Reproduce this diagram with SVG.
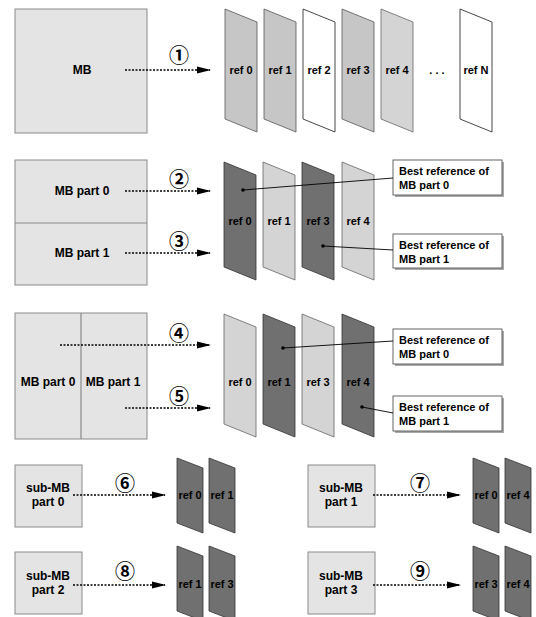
<svg xmlns="http://www.w3.org/2000/svg" width="536" height="617" viewBox="0 0 536 617">
<defs>
<style>
.mb{fill:#e4e4e4;stroke:#8a8a8a;stroke-width:1}
.div{stroke:#8a8a8a;stroke-width:1.2}
.rl{fill:#d4d4d4;stroke:#666;stroke-width:0.8}
.rm{fill:#c6c6c6;stroke:#555;stroke-width:0.8}
.rw{fill:#ffffff;stroke:#333;stroke-width:0.9}
.rd{fill:#707070;stroke:#333;stroke-width:0.8}
.t{font-family:"Liberation Sans",Arial,sans-serif;font-weight:bold;font-size:11px;fill:#000;text-anchor:middle}
.tb{font-family:"Liberation Sans",Arial,sans-serif;font-weight:bold;font-size:12px;fill:#000;text-anchor:middle}
.tl{font-family:"Liberation Sans",Arial,sans-serif;font-weight:bold;font-size:11px;fill:#000}
.num{font-family:"Noto Sans CJK SC","DejaVu Sans",sans-serif;font-weight:bold;font-size:20px;fill:#000;text-anchor:middle}
.arr{stroke:#000;stroke-width:1.4;stroke-dasharray:2 1.5;fill:none}
.lead{stroke:#000;stroke-width:0.9;fill:none}
.cb{fill:#fff;stroke:#555;stroke-width:0.9}
.cs{fill:#aaa}
</style>
<marker id="ah" markerWidth="14" markerHeight="8" refX="13" refY="4" orient="auto" markerUnits="userSpaceOnUse">
<path d="M0,0.5 L14,4 L0,7.5 Z" fill="#000"/>
</marker>
</defs>

<!-- Row 1 -->
<g id="mb1"><rect class="mb" x="15" y="9" width="132" height="124"/><text class="tb" x="82" y="74">MB</text></g>
<g id="r1-0"><polygon class="rm" points="225,9 257,22 257,132 225,119"/><text class="t" x="241" y="74">ref 0</text></g>
<g id="r1-1"><polygon class="rm" points="264,9 296,22 296,132 264,119"/><text class="t" x="280" y="74">ref 1</text></g>
<g id="r1-2"><polygon class="rw" points="303,9 335,22 335,132 303,119"/><text class="t" x="319" y="74">ref 2</text></g>
<g id="r1-3"><polygon class="rm" points="342,9 374,22 374,132 342,119"/><text class="t" x="358" y="74">ref 3</text></g>
<g id="r1-4"><polygon class="rl" points="381,9 413,22 413,132 381,119"/><text class="t" x="397" y="74">ref 4</text></g>
<g id="dots"><text class="t" x="437" y="74">. . .</text></g>
<g id="r1-N"><polygon class="rw" points="460,9 492,22 492,132 460,119"/><text class="t" x="476" y="74">ref N</text></g>

<!-- Row 2 -->
<g id="mb2"><rect class="mb" x="15" y="160" width="132" height="125"/><line class="div" x1="15" y1="223" x2="147" y2="223"/><text class="tb" x="82" y="195">MB part 0</text><text class="tb" x="82" y="257">MB part 1</text></g>
<g id="r2-0"><polygon class="rd" points="224,162 256,175 256,280 224,267"/><text class="t" x="240" y="225">ref 0</text></g>
<g id="r2-1"><polygon class="rl" points="263,162 295,175 295,280 263,267"/><text class="t" x="279" y="225">ref 1</text></g>
<g id="r2-3"><polygon class="rd" points="302,162 334,175 334,280 302,267"/><text class="t" x="318" y="225">ref 3</text></g>
<g id="r2-4"><polygon class="rl" points="342,162 374,175 374,280 342,267"/><text class="t" x="358" y="225">ref 4</text></g>
<g id="c2a"><rect class="cs" x="395" y="162" width="109" height="35"/><rect class="cb" x="393" y="160" width="109" height="35"/><text class="tl" x="399" y="175">Best reference of</text><text class="tl" x="399" y="189">MB part 0</text></g>
<g id="c2b"><rect class="cs" x="395" y="236" width="109" height="34"/><rect class="cb" x="393" y="234" width="109" height="34"/><text class="tl" x="399" y="249">Best reference of</text><text class="tl" x="399" y="263">MB part 1</text></g>

<!-- Row 3 -->
<g id="mb3"><rect class="mb" x="15" y="313" width="132" height="126"/><line class="div" x1="81" y1="313" x2="81" y2="439"/><text class="tb" x="48" y="386">MB part 0</text><text class="tb" x="113" y="386">MB part 1</text></g>
<g id="r3-0"><polygon class="rl" points="224,314 256,327 256,437 224,424"/><text class="t" x="240" y="386">ref 0</text></g>
<g id="r3-1"><polygon class="rd" points="263,314 295,327 295,437 263,424"/><text class="t" x="279" y="386">ref 1</text></g>
<g id="r3-3"><polygon class="rl" points="302,314 334,327 334,437 302,424"/><text class="t" x="318" y="386">ref 3</text></g>
<g id="r3-4"><polygon class="rd" points="342,314 374,327 374,437 342,424"/><text class="t" x="358" y="386">ref 4</text></g>
<g id="c3a"><rect class="cs" x="395" y="331" width="109" height="35"/><rect class="cb" x="393" y="329" width="109" height="35"/><text class="tl" x="399" y="344">Best reference of</text><text class="tl" x="399" y="358">MB part 0</text></g>
<g id="c3b"><rect class="cs" x="395" y="398" width="109" height="35"/><rect class="cb" x="393" y="396" width="109" height="35"/><text class="tl" x="399" y="411">Best reference of</text><text class="tl" x="399" y="425">MB part 1</text></g>

<!-- Bottom -->
<g id="s0"><rect class="mb" x="15" y="465" width="67" height="62"/><text class="tb" x="48" y="492">sub-MB</text><text class="tb" x="48" y="506">part 0</text></g>
<g id="s0r0"><polygon class="rd" points="177,458 203,468 203,533 177,523"/><text class="t" x="190" y="499">ref 0</text></g>
<g id="s0r1"><polygon class="rd" points="209,458 235,468 235,533 209,523"/><text class="t" x="222" y="499">ref 1</text></g>

<g id="s1"><rect class="mb" x="308" y="465" width="67" height="62"/><text class="tb" x="341" y="492">sub-MB</text><text class="tb" x="341" y="506">part 1</text></g>
<g id="s1r0"><polygon class="rd" points="473,458 499,468 499,533 473,523"/><text class="t" x="486" y="499">ref 0</text></g>
<g id="s1r4"><polygon class="rd" points="505,458 531,468 531,533 505,523"/><text class="t" x="518" y="499">ref 4</text></g>

<g id="s2"><rect class="mb" x="15" y="552" width="67" height="62"/><text class="tb" x="48" y="580">sub-MB</text><text class="tb" x="48" y="594">part 2</text></g>
<g id="s2r1"><polygon class="rd" points="177,546 203,556 203,621 177,611"/><text class="t" x="190" y="588">ref 1</text></g>
<g id="s2r3"><polygon class="rd" points="209,546 235,556 235,621 209,611"/><text class="t" x="222" y="588">ref 3</text></g>

<g id="s3"><rect class="mb" x="308" y="552" width="67" height="62"/><text class="tb" x="341" y="580">sub-MB</text><text class="tb" x="341" y="594">part 3</text></g>
<g id="s3r3"><polygon class="rd" points="473,546 499,556 499,621 473,611"/><text class="t" x="486" y="588">ref 3</text></g>
<g id="s3r4"><polygon class="rd" points="505,546 531,556 531,621 505,611"/><text class="t" x="518" y="588">ref 4</text></g>

<!-- Connectors -->
<g id="connectors">
<line class="arr" x1="125" y1="70" x2="210" y2="70" marker-end="url(#ah)"/>
<line class="arr" x1="125" y1="191" x2="210" y2="191" marker-end="url(#ah)"/>
<line class="arr" x1="125" y1="253" x2="210" y2="253" marker-end="url(#ah)"/>
<line class="arr" x1="60" y1="345" x2="210" y2="345" marker-end="url(#ah)"/>
<line class="arr" x1="125" y1="408" x2="210" y2="408" marker-end="url(#ah)"/>
<line class="arr" x1="73" y1="495" x2="165" y2="495" marker-end="url(#ah)"/>
<line class="arr" x1="373" y1="495" x2="460" y2="495" marker-end="url(#ah)"/>
<line class="arr" x1="73" y1="585" x2="165" y2="585" marker-end="url(#ah)"/>
<line class="arr" x1="373" y1="585" x2="460" y2="585" marker-end="url(#ah)"/>
<polyline class="lead" points="243,190 393,178"/><circle cx="243" cy="190" r="1.8"/>
<polyline class="lead" points="323,246 393,250"/><circle cx="323" cy="246" r="1.8"/>
<polyline class="lead" points="283,348 393,341"/><circle cx="283" cy="348" r="1.8"/>
<polyline class="lead" points="362,407 393,413"/><circle cx="362" cy="407" r="1.8"/>
</g>

<!-- Step numbers -->
<g id="nums">
<text class="num" x="179" y="63">①</text>
<text class="num" x="179" y="187">②</text>
<text class="num" x="179" y="249">③</text>
<text class="num" x="179" y="341">④</text>
<text class="num" x="179" y="404">⑤</text>
<text class="num" x="125" y="491">⑥</text>
<text class="num" x="420" y="491">⑦</text>
<text class="num" x="125" y="579">⑧</text>
<text class="num" x="420" y="579">⑨</text>
</g>
</svg>
